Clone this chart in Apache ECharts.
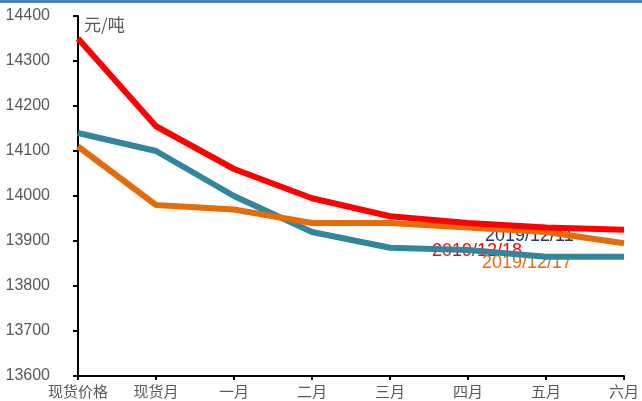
<!DOCTYPE html>
<html>
<head>
<meta charset="utf-8">
<script src="https://cdn.jsdelivr.net/npm/echarts@6/dist/echarts.min.js"></script>
<style>
  html, body { margin: 0; padding: 0; background: #fff; }
  #chart { width: 642px; height: 401px; }
</style>
</head>
<body>
<div id="chart"></div>
<script>
var categories = ['现货价格', '现货月', '一月', '二月', '三月', '四月', '五月', '六月'];
var s1218 = [14350, 14155, 14060, 13995, 13955, 13940, 13930, 13925];
var s1211 = [14140, 14100, 14000, 13920, 13885, 13880, 13865, 13865];
var s1217 = [14110, 13980, 13970, 13940, 13940, 13930, 13920, 13895];

var chart = echarts.init(document.getElementById('chart'));

var option = {
    backgroundColor: '#fff',
    animation: false,
    grid: { left: 78, right: 15, top: 16, bottom: 25 },
    xAxis: {
        type: 'category',
        boundaryGap: false,
        data: categories,
        axisLine: { lineStyle: { color: '#000', width: 2 } },
        axisTick: { show: true, alignWithLabel: true, interval: 0, length: 4, lineStyle: { color: '#000', width: 2 } },
        axisLabel: { color: '#595959', fontSize: 15, margin: 8, interval: 0, hideOverlap: false, fontFamily: 'Noto Sans CJK SC' }
    },
    yAxis: {
        type: 'value',
        min: 13600,
        max: 14400,
        interval: 100,
        axisLine: { show: true, lineStyle: { color: '#000', width: 2 } },
        axisTick: { show: true, length: 5, lineStyle: { color: '#000', width: 2 } },
        splitLine: { show: false },
        axisLabel: {
            color: '#595959', fontSize: 16, margin: 28, fontFamily: 'Liberation Sans',
            formatter: function (v) { return String(v); }
        }
    },
    series: [
        {
            name: '2019/12/11', type: 'line', data: s1211, symbol: 'none',
            lineStyle: { color: '#31859C', width: 6 }
        },
        {
            name: '2019/12/17', type: 'line', data: s1217, symbol: 'none',
            lineStyle: { color: '#E46C0A', width: 6 }
        },
        {
            name: '2019/12/18', type: 'line', data: s1218, symbol: 'none',
            lineStyle: { color: '#FF0000', width: 6 }
        }
    ],
    graphic: [
        { type: 'rect', shape: { x: 0, y: 0, width: 642, height: 3 }, style: { fill: '#4F81BD' } },
        { type: 'text', left: 84, top: 16, style: { text: '元/吨', fill: '#595959', font: '17px "Noto Sans CJK SC"' } },
        { type: 'text', left: 485, top: 227, style: { text: '2019/12/11', fill: '#1F3864', font: '18px "Liberation Sans"' } },
        { type: 'text', left: 432, top: 242, style: { text: '2019/12/18', fill: '#FF0000', font: '18px "Liberation Sans"' } },
        { type: 'text', left: 482, top: 254, style: { text: '2019/12/17', fill: '#E46C0A', font: '18px "Liberation Sans"' } }
    ]
};

chart.setOption(option);
</script>
</body>
</html>
